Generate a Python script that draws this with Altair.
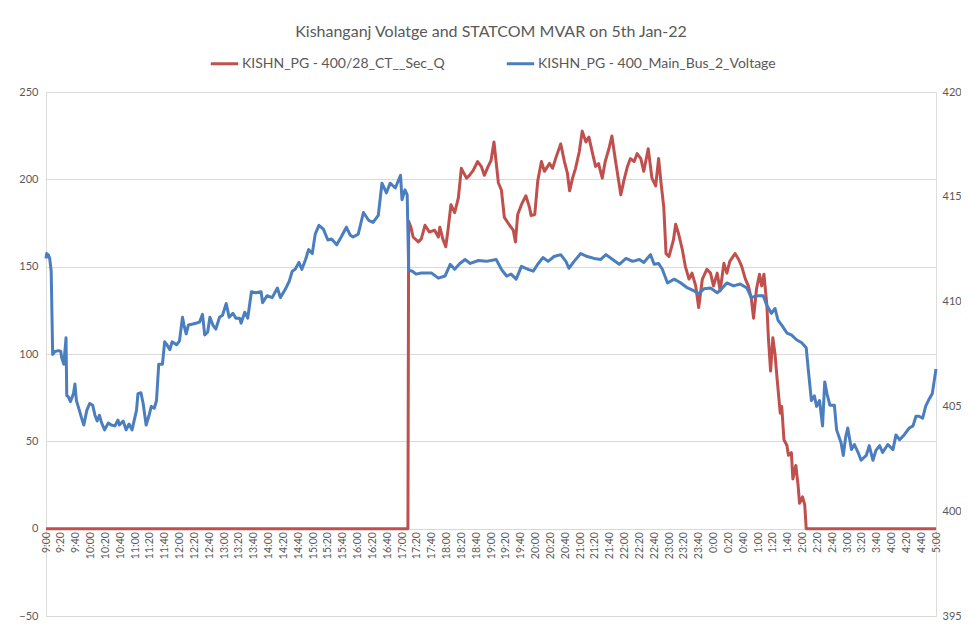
import altair as alt
import pandas as pd

TITLE = "Kishanganj Volatge and STATCOM MVAR on 5th Jan-22"
RED_NAME = "KISHN_PG - 400/28_CT__Sec_Q"
BLUE_NAME = "KISHN_PG - 400_Main_Bus_2_Voltage"

# x-axis category labels (every 20 minutes from 9:00 to 5:00 next day)
TICK_LABELS = [
    "9:00", "9:20", "9:40", "10:00", "10:20", "10:40", "11:00", "11:20", "11:40",
    "12:00", "12:20", "12:40", "13:00", "13:20", "13:40", "14:00", "14:20", "14:40",
    "15:00", "15:20", "15:40", "16:00", "16:20", "16:40", "17:00", "17:20", "17:40",
    "18:00", "18:20", "18:40", "19:00", "19:20", "19:40", "20:00", "20:20", "20:40",
    "21:00", "21:20", "21:40", "22:00", "22:20", "22:40", "23:00", "23:20", "23:40",
    "0:00", "0:20", "0:40", "1:00", "1:20", "1:40", "2:00", "2:20", "2:40",
    "3:00", "3:20", "3:40", "4:00", "4:20", "4:40", "5:00",
]
LEFT_TICKS = [-50, 0, 50, 100, 150, 200, 250]
RIGHT_TICKS = [395, 400, 405, 410, 415, 420]

# Bus voltage (kV), minutes after 9:00
blue_min = [
    0, 1, 3, 5, 7, 9, 12, 17, 20, 21, 24, 27, 28, 30, 33, 37, 39, 41, 45, 48, 51, 55, 59, 63,
    66, 69, 72, 75, 79, 84, 88, 93, 97, 99, 104, 108, 112, 116, 122, 124, 128, 131, 135, 139,
    142, 146, 149, 152, 157, 160, 163, 167, 170, 176, 180, 184, 186, 189, 192, 198, 202, 207,
    211, 214, 218, 221, 225, 229, 234, 238, 243, 247, 252, 256, 261, 263, 268, 272, 277, 283,
    290, 292, 298, 305, 312, 316, 323, 328, 332, 336, 341, 345, 350, 354, 359, 363, 368, 374,
    380, 385, 392, 398, 405, 410, 414, 421, 428, 435, 441, 448, 453, 459, 464, 471, 478, 480,
    484, 487, 489, 494, 499, 506, 520, 529, 538, 545, 551, 558, 565, 572, 583, 594, 607, 614,
    621, 627, 634, 641, 650, 657, 663, 670, 677, 685, 694, 701, 705, 712, 721, 730, 739, 748,
    755, 764, 773, 782, 791, 800, 806, 815, 820, 826, 831, 838, 847, 856, 865, 874, 880, 887,
    896, 905, 911, 918, 927, 936, 945, 951, 958, 967, 972, 978, 983, 987, 992, 999, 1005, 1012,
    1019, 1025, 1028, 1032, 1036, 1039, 1043, 1047, 1050, 1053, 1057, 1063, 1066, 1072, 1075,
    1078, 1081, 1086, 1090, 1095, 1099, 1106, 1110, 1115, 1119, 1124, 1128, 1135, 1142, 1146,
    1151, 1157, 1164, 1169, 1173, 1177, 1182, 1186, 1191, 1195, 1200,
]
blue_kv = [
    412.06, 412.29, 412.24, 412.06, 411.45, 407.48, 407.62, 407.66, 407.62, 407.34, 407.01,
    408.27, 405.51, 405.47, 405.23, 405.61, 406.07, 405.28, 404.81, 404.44, 404.11, 404.81,
    405.14, 405.05, 404.58, 404.30, 404.58, 404.21, 403.88, 404.21, 404.11, 404.07, 404.35,
    404.11, 404.30, 403.88, 404.16, 403.88, 404.81, 405.61, 405.65, 405.14, 404.11, 404.58,
    405.00, 404.91, 405.28, 407.01, 407.01, 408.08, 407.94, 407.71, 408.08, 407.94, 408.13,
    409.25, 408.88, 408.46, 408.88, 408.93, 408.97, 409.02, 409.39, 408.41, 408.55, 409.25,
    408.88, 408.69, 409.25, 409.35, 409.91, 409.25, 409.44, 409.21, 409.21, 408.97, 409.49,
    409.21, 410.47, 410.42, 410.47, 409.95, 410.28, 410.19, 410.65, 410.19, 410.61, 410.98,
    411.45, 411.54, 411.87, 411.54, 412.01, 412.48, 412.29, 413.22, 413.64, 413.46, 412.94,
    412.99, 412.71, 413.08, 413.55, 413.18, 413.08, 413.22, 414.25, 413.88, 413.78, 414.11,
    415.65, 415.19, 415.65, 415.42, 416.03, 414.86, 415.33, 415.09, 411.50, 411.45, 411.31,
    411.36, 411.36, 411.12, 411.22, 411.78, 411.54, 411.82, 412.01, 411.82, 411.96, 411.92,
    412.01, 411.54, 411.22, 411.31, 411.07, 411.68, 411.54, 411.45, 411.78, 412.10, 411.92,
    412.15, 412.24, 411.92, 411.59, 411.92, 412.29, 412.15, 412.06, 412.01, 412.24, 412.01,
    411.78, 412.06, 411.92, 412.01, 411.87, 412.24, 411.78, 411.82, 411.54, 410.89, 411.07,
    410.89, 410.65, 410.51, 410.37, 410.61, 410.65, 410.42, 410.61, 410.89, 410.75, 410.84,
    410.65, 410.19, 410.28, 410.28, 409.81, 409.44, 409.67, 409.11, 408.88, 408.50, 408.41,
    408.18, 408.04, 407.80, 406.68, 405.28, 405.51, 405.00, 405.28, 404.07, 406.17, 405.61,
    405.05, 405.05, 403.88, 403.27, 402.66, 403.50, 403.97, 402.94, 403.18, 402.80, 402.43,
    402.66, 403.13, 402.43, 402.90, 403.13, 402.80, 403.18, 402.94, 403.64, 403.41, 403.64,
    403.97, 404.07, 404.53, 404.53, 404.44, 405.00, 405.37, 405.61, 406.78,
]

# STATCOM reactive power (MVAR), minutes after 9:00
red_min = [
    0, 488, 489, 492, 495, 502, 506, 511, 517, 524, 529, 531, 535, 539, 542, 546, 551, 556,
    560, 567, 571, 576, 582, 587, 591, 596, 600, 604, 610, 614, 618, 625, 630, 633, 636, 641,
    647, 652, 654, 659, 663, 668, 672, 679, 683, 688, 694, 699, 703, 706, 710, 714, 719, 723,
    728, 732, 737, 741, 745, 750, 754, 759, 763, 768, 772, 775, 779, 784, 788, 793, 797, 802,
    806, 812, 817, 822, 826, 829, 833, 836, 840, 846, 849, 853, 858, 862, 867, 871, 876, 880,
    885, 891, 896, 900, 905, 909, 914, 918, 922, 929, 934, 938, 943, 947, 951, 954, 958, 962,
    965, 968, 972, 974, 977, 980, 983, 986, 990, 992, 995, 999, 1001, 1005, 1007, 1011, 1014,
    1016, 1020, 1023, 1025, 1200,
]
red_mvar = [
    0, 0, 176.0, 172.6, 167.0, 164.2, 165.9, 173.7, 169.8, 170.9, 167.0, 172.6, 165.9, 161.4,
    170.9, 185.5, 181.0, 189.4, 206.3, 200.7, 202.3, 205.1, 210.2, 207.3, 202.3, 207.3, 210.7,
    221.4, 197.9, 193.9, 178.2, 173.7, 170.9, 164.2, 179.9, 185.5, 190.6, 183.8, 179.3, 179.9,
    199.0, 210.2, 204.6, 209.1, 206.3, 213.0, 220.3, 210.2, 203.5, 193.4, 200.7, 206.3, 215.8,
    227.6, 221.4, 224.2, 214.7, 207.4, 209.0, 200.7, 210.2, 217.5, 224.8, 210.2, 199.5, 191.1,
    199.0, 207.4, 211.9, 210.2, 214.7, 211.9, 204.6, 217.5, 200.7, 196.2, 211.9, 199.0, 183.8,
    157.5, 155.8, 165.3, 174.3, 168.7, 159.7, 150.2, 142.9, 146.3, 139.0, 126.6, 142.9, 148.5,
    146.3, 139.0, 146.3, 136.2, 151.9, 146.3, 153.0, 157.5, 154.1, 150.2, 142.9, 139.0, 131.7,
    120.5, 137.3, 145.7, 139.0, 145.7, 127.8, 109.3, 90.2, 109.3, 99.7, 84.6, 66.1, 69.9, 50.9,
    47.6, 42.0, 43.5, 28.5, 36.2, 25.1, 14.5, 18.2, 13.7, 0, 0,
]

RED = "#C0504D"
BLUE = "#4A7EBF"
GREY = "#595959"
FONT = "Lato"

W, H = 890, 524

df_red = pd.DataFrame({"t": red_min, "v": red_mvar, "series": RED_NAME})
df_blue = pd.DataFrame({"t": blue_min, "v": blue_kv, "series": BLUE_NAME})

label_expr = "[" + ",".join("'%s'" % s for s in TICK_LABELS) + "][round(datum.value / 20)]"

x_enc = alt.X(
    "t:Q",
    scale=alt.Scale(domain=[0, 1200], nice=False, zero=False),
    axis=alt.Axis(
        values=[i * 20 for i in range(len(TICK_LABELS))],
        labelExpr=label_expr,
        labelAngle=270,
        labelFontSize=10.5,
        labelColor=GREY,
        labelFont=FONT,
        labelPadding=3,
        labelOverlap=False,
        labelFlush=False,
        labelBound=False,
        ticks=False,
        domain=False,
        grid=False,
        title=None,
        offset=-H * 50 / 300,
    ),
)

color_enc = alt.Color(
    "series:N",
    scale=alt.Scale(domain=[RED_NAME, BLUE_NAME], range=[RED, BLUE]),
    legend=alt.Legend(
        title=None,
        orient="none",
        legendX=163,
        legendY=-44,
        direction="horizontal",
        symbolType="stroke",
        symbolStrokeWidth=3,
        symbolSize=750,
        labelFont=FONT,
        labelFontSize=14,
        labelColor=GREY,
        labelOffset=2,
        labelLimit=0,
        columnPadding=55,
        padding=0,
    ),
)

blue_line = alt.Chart(df_blue).mark_line(strokeWidth=3, strokeJoin="round").encode(
    x=x_enc,
    y=alt.Y(
        "v:Q",
        scale=alt.Scale(domain=[395, 420], nice=False, zero=False),
        axis=alt.Axis(
            orient="right",
            values=RIGHT_TICKS,
            grid=False,
            ticks=False,
            domain=False,
            title=None,
            labelFont=FONT,
            labelFontSize=11,
            labelColor=GREY,
            labelPadding=6,
        ),
    ),
    color=color_enc,
)

red_line = alt.Chart(df_red).mark_line(strokeWidth=3, strokeJoin="round").encode(
    x=x_enc,
    y=alt.Y(
        "v:Q",
        scale=alt.Scale(domain=[-50, 250], nice=False, zero=False),
        axis=alt.Axis(
            orient="left",
            values=LEFT_TICKS,
            grid=True,
            gridColor="#D9D9D9",
            gridWidth=1,
            ticks=False,
            domain=False,
            title=None,
            labelFont=FONT,
            labelFontSize=11,
            labelColor=GREY,
            labelPadding=8,
        ),
    ),
    color=color_enc,
)

chart = (
    alt.layer(red_line, blue_line)
    .resolve_scale(y="independent")
    .properties(
        width=W,
        height=H,
        title=alt.TitleParams(
            TITLE,
            font=FONT,
            fontSize=16,
            fontWeight="normal",
            color=GREY,
            anchor="middle",
            offset=8,
        ),
        autosize=alt.AutoSizeParams(type="none"),
        padding={"left": 38, "top": 84, "right": 25, "bottom": 8},
    )
    .configure_view(stroke=None)
    .configure(background="white")
)

chart.save("out.html", embed_options={"renderer": "svg", "actions": False})
